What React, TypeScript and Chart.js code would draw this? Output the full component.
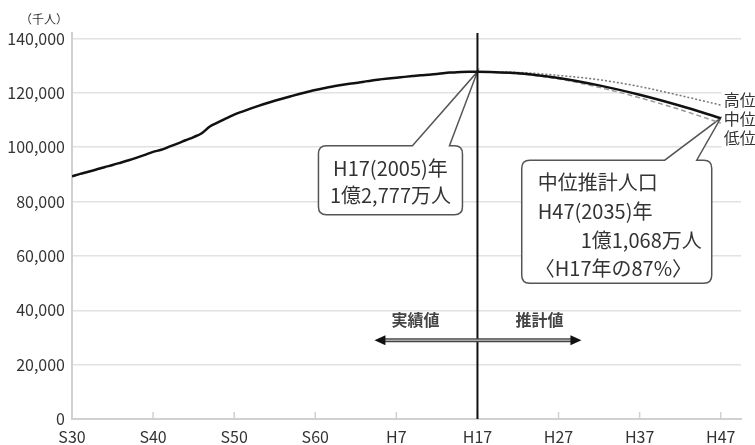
import React, { useEffect, useRef } from "react";
import { Chart, registerables } from "chart.js";

Chart.register(...registerables);

// ---- data ----
const actualStartYear = 1955;
const actualValues = [
  89276, 90172, 90928, 91767, 92641, 93419, 94287, 95181, 96156, 97182,
  98275, 99036, 100196, 101331, 102536, 103720, 105145, 107595, 109104, 110573,
  111940, 113094, 114165, 115190, 116155, 117060, 117902, 118728, 119536, 120305,
  121049, 121660, 122239, 122745, 123205, 123611, 124101, 124567, 124938, 125265,
  125570, 125859, 126157, 126472, 126667, 126926, 127316, 127486, 127694, 127787,
  127768,
];
const projYears = [2005, 2010, 2015, 2020, 2025, 2030, 2035];
const midValues = [127768, 127176, 125430, 122735, 119270, 115224, 110679];
const highValues = [127768, 127500, 126400, 124800, 122300, 119000, 115500];
const lowValues = [127768, 127000, 125100, 122000, 118200, 113800, 108900];

const tickYears = [1955, 1965, 1975, 1985, 1995, 2005, 2015, 2025, 2035];
const tickLabels = ["S30", "S40", "S50", "S60", "H7", "H17", "H27", "H37", "H47"];
const yTicks = [0, 20000, 40000, 60000, 80000, 100000, 120000, 140000];
const yUnitLabel = "（千人）";
const variantLabels = ["高位", "中位", "低位"];
const callout1Lines = ["H17(2005)年", "1億2,777万人"];
const callout2Lines = ["中位推計人口", "H47(2035)年", "1億1,068万人", "〈H17年の87%〉"];
const arrowLabels = ["実績値", "推計値"];
const dividerYear = 2005;
const calloutValue1 = 127768;
const calloutYear2 = 2035;
const calloutValue2 = 110679;

const FONT = '"Noto Sans CJK JP", "Noto Sans", sans-serif';

function roundedCallout(
  ctx: CanvasRenderingContext2D,
  l: number, t: number, r: number, b: number, rad: number,
  p1: number, p2: number, tipX: number, tipY: number
) {
  ctx.beginPath();
  ctx.moveTo(l + rad, t);
  ctx.lineTo(p1, t);
  ctx.lineTo(tipX, tipY);
  ctx.lineTo(p2, t);
  ctx.lineTo(r - rad, t);
  ctx.quadraticCurveTo(r, t, r, t + rad);
  ctx.lineTo(r, b - rad);
  ctx.quadraticCurveTo(r, b, r - rad, b);
  ctx.lineTo(l + rad, b);
  ctx.quadraticCurveTo(l, b, l, b - rad);
  ctx.lineTo(l, t + rad);
  ctx.quadraticCurveTo(l, t, l + rad, t);
  ctx.closePath();
  ctx.fillStyle = "#ffffff";
  ctx.fill();
  ctx.strokeStyle = "#555";
  ctx.lineWidth = 1.5;
  ctx.stroke();
}

const annotations = {
  id: "annotations",
  beforeDatasetsDraw(chart: any) {
    const { ctx, scales } = chart;
    const x = scales.x;
    const y = scales.y;
    ctx.save();
    // callout 1
    const t1x = x.getPixelForValue(dividerYear);
    const t1y = y.getPixelForValue(calloutValue1);
    roundedCallout(ctx, t1x - 159, t1y + 74, t1x - 15, t1y + 143, 8, t1x - 65, t1x - 28, t1x, t1y);
    ctx.fillStyle = "#333";
    ctx.font = `20px ${FONT}`;
    ctx.textAlign = "center";
    ctx.textBaseline = "middle";
    ctx.fillText(callout1Lines[0], t1x - 87, t1y + 97);
    ctx.fillText(callout1Lines[1], t1x - 87, t1y + 124);

    // callout 2 (box placed left of the 2035 point)
    const t2x = x.getPixelForValue(calloutYear2);
    const t2y = y.getPixelForValue(calloutValue2);
    const bx = t2x - 6;
    roundedCallout(ctx, bx - 193, t2y + 42, bx - 3, t2y + 165, 8, bx - 50, bx - 18, t2x, t2y);
    ctx.fillStyle = "#333";
    ctx.textAlign = "left";
    ctx.fillText(callout2Lines[0], bx - 177, t2y + 64);
    ctx.fillText(callout2Lines[1], bx - 177, t2y + 93);
    ctx.textAlign = "right";
    ctx.fillText(callout2Lines[2], bx - 13, t2y + 122);
    ctx.textAlign = "left";
    ctx.fillText(callout2Lines[3], bx - 180, t2y + 150);

    // variant labels (white background)
    const lx = t2x + 3;
    ctx.fillStyle = "#ffffff";
    ctx.fillRect(lx - 2, t2y - 28, 60, 58);
    ctx.fillStyle = "#333";
    ctx.font = `16px ${FONT}`;
    ctx.textAlign = "left";
    ctx.fillText(variantLabels[0], lx, t2y - 18);
    ctx.fillText(variantLabels[1], lx, t2y + 1);
    ctx.fillText(variantLabels[2], lx, t2y + 20);
    ctx.restore();
  },
  afterDatasetsDraw(chart: any) {
    const { ctx, scales, chartArea } = chart;
    const x = scales.x;
    const y = scales.y;
    ctx.save();
    // inner tick marks on x axis
    ctx.strokeStyle = "#d0d0d0";
    ctx.lineWidth = 1.5;
    tickYears.forEach((yr) => {
      const px = x.getPixelForValue(yr);
      ctx.beginPath();
      ctx.moveTo(px, chartArea.bottom);
      ctx.lineTo(px, chartArea.bottom - 7);
      ctx.stroke();
    });
    // divider line
    const dx = x.getPixelForValue(dividerYear);
    ctx.strokeStyle = "#111";
    ctx.lineWidth = 2;
    ctx.beginPath();
    ctx.moveTo(dx, chartArea.top);
    ctx.lineTo(dx, chartArea.bottom);
    ctx.stroke();

    // arrows
    const ay = y.getPixelForValue(29000);
    const al = dx - 103;
    const ar = dx + 104;
    ctx.strokeStyle = "#444";
    ctx.lineWidth = 4;
    ctx.beginPath();
    ctx.moveTo(al + 8, ay);
    ctx.lineTo(ar - 8, ay);
    ctx.stroke();
    ctx.strokeStyle = "#aaa";
    ctx.lineWidth = 1.5;
    ctx.beginPath();
    ctx.moveTo(al + 8, ay);
    ctx.lineTo(ar - 8, ay);
    ctx.stroke();
    ctx.fillStyle = "#111";
    ctx.beginPath();
    ctx.moveTo(al, ay);
    ctx.lineTo(al + 11, ay - 5);
    ctx.lineTo(al + 11, ay + 5);
    ctx.closePath();
    ctx.fill();
    ctx.beginPath();
    ctx.moveTo(ar, ay);
    ctx.lineTo(ar - 11, ay - 5);
    ctx.lineTo(ar - 11, ay + 5);
    ctx.closePath();
    ctx.fill();
    ctx.fillStyle = "#444";
    ctx.font = `bold 16px ${FONT}`;
    ctx.textAlign = "center";
    ctx.textBaseline = "middle";
    ctx.fillText(arrowLabels[0], dx - 62, ay - 20);
    ctx.fillText(arrowLabels[1], dx + 62, ay - 20);

    // unit label
    ctx.fillStyle = "#333";
    ctx.font = `12px ${FONT}`;
    ctx.fillText(yUnitLabel, 44, 19);
    ctx.restore();
  },
};

export default function App() {
  const ref = useRef<HTMLCanvasElement | null>(null);
  useEffect(() => {
    document.body.style.margin = "0";
    if (!ref.current) return;
    const mainData = actualValues.map((v, i) => ({ x: actualStartYear + i, y: v }));
    projYears.forEach((yr, i) => {
      if (yr > dividerYear) mainData.push({ x: yr, y: midValues[i] });
    });
    const chart = new Chart(ref.current, {
      type: "line",
      data: {
        datasets: [
          {
            data: mainData,
            borderColor: "#111",
            borderWidth: 2.5,
            pointRadius: 0,
            cubicInterpolationMode: "monotone",
          },
          {
            data: projYears.map((yr, i) => ({ x: yr, y: highValues[i] })),
            borderColor: "#777",
            borderWidth: 1.5,
            borderDash: [2, 2],
            pointRadius: 0,
            cubicInterpolationMode: "monotone",
          },
          {
            data: projYears.map((yr, i) => ({ x: yr, y: lowValues[i] })),
            borderColor: "#999",
            borderWidth: 1.5,
            borderDash: [5, 3],
            pointRadius: 0,
            cubicInterpolationMode: "monotone",
          },
        ],
      },
      options: {
        animation: false,
        responsive: false,
        maintainAspectRatio: false,
        layout: { padding: { top: 33, right: 14, left: 0, bottom: 0 } },
        plugins: { legend: { display: false }, tooltip: { enabled: false } },
        scales: {
          x: {
            type: "linear",
            min: 1955,
            max: 2037.5,
            afterBuildTicks: (s: any) => {
              s.ticks = tickYears.map((v) => ({ value: v }));
            },
            afterFit: (s: any) => {
              s.height = 26;
            },
            ticks: {
              autoSkip: false,
              maxRotation: 0,
              padding: 8,
              color: "#333",
              font: { family: FONT, size: 16 },
              callback: (v: any) => tickLabels[tickYears.indexOf(Number(v))] ?? "",
            },
            grid: { drawOnChartArea: false, drawTicks: false },
            border: { display: true, color: "#d0d0d0", width: 2 },
          },
          y: {
            min: 0,
            max: 142000,
            afterBuildTicks: (s: any) => {
              s.ticks = yTicks.map((v) => ({ value: v }));
            },
            afterFit: (s: any) => {
              s.width = 72;
            },
            ticks: {
              padding: 7,
              color: "#333",
              font: { family: FONT, size: 16 },
              callback: (v: any) => Number(v).toLocaleString("en-US"),
            },
            grid: { color: "#e2e2e2", lineWidth: 1.5, drawTicks: false },
            border: { display: true, color: "#d0d0d0", width: 2 },
          },
        },
      },
      plugins: [annotations],
    });
    return () => chart.destroy();
  }, []);
  return (
    <canvas
      ref={ref}
      width={755}
      height={445}
      style={{ display: "block", width: 755, height: 445 }}
    />
  );
}
